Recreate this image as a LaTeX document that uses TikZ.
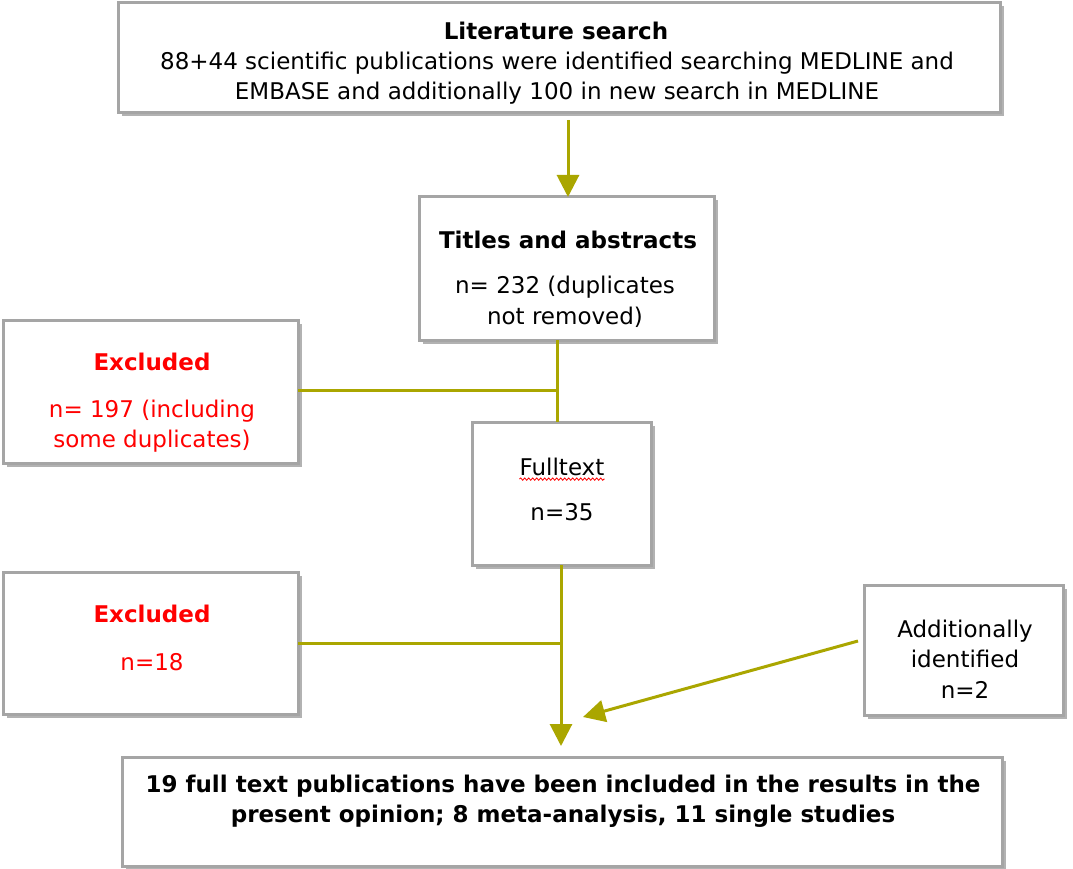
\documentclass[tikz,border=0pt]{standalone}
\usepackage{fontspec}
\setmainfont{DejaVu Sans}
\usetikzlibrary{arrows.meta,shadows,decorations.pathmorphing}
\definecolor{olivearr}{RGB}{170,166,0}
\definecolor{boxgray}{RGB}{165,165,165}
\definecolor{exred}{RGB}{255,0,0}
\tikzset{
  box/.style={draw=boxgray, line width=3pt, fill=white, inner sep=0pt, outer sep=0pt,
    drop shadow={shadow xshift=3.5pt, shadow yshift=-3.5pt, opacity=0.5, fill=black!60}},
  txt/.style={font=\fontsize{23}{30.5}\selectfont, align=center, inner sep=0pt},
  btxt/.style={txt, font=\fontsize{23}{30.5}\selectfont\bfseries},
  conn/.style={draw=olivearr, line width=3pt},
  arr/.style={conn, -{Triangle[width=22pt,length=22pt]}, fill=olivearr},
}
\begin{document}
\begin{tikzpicture}[x=1pt,y=-1pt]
\useasboundingbox (0,0) rectangle (1073,869);
% boxes
\node[box, minimum width=882pt, minimum height=110pt] (top) at (559,58) {};
\node[box, minimum width=295pt, minimum height=143pt] (titles) at (566.5,268.5) {};
\node[box, minimum width=295pt, minimum height=143pt] (excla) at (150.5,391.5) {};
\node[box, minimum width=179pt, minimum height=143pt] (full) at (561.5,493.5) {};
\node[box, minimum width=295pt, minimum height=142pt] (exclb) at (150.5,643) {};
\node[box, minimum width=199pt, minimum height=130pt] (add) at (963.5,650) {};
\node[box, minimum width=880pt, minimum height=109pt] (final) at (562,811.5) {};
% texts
\node[btxt] (topT) at (556,31) {Literature search};
\node[txt] (topB) at (557,78) {88+44 scientific publications were identified searching MEDLINE and\\EMBASE and additionally 100 in new search in MEDLINE};
\node[btxt] (titT) at (568,240) {Titles and abstracts};
\node[txt] (titB) at (565,302) {n= 232 (duplicates\\not removed)};
\node[btxt, text=exred] (exaT) at (152,362) {Excluded};
\node[txt, text=exred] (exaB) at (152,426) {n= 197 (including\\some duplicates)};
\node[txt] (fulT) at (562,467) {Fulltext};
\node[txt] (fulB) at (562,512) {n=35};
\node[btxt, text=exred] (exbT) at (152,614) {Excluded};
\node[txt, text=exred] (exbB) at (152,662) {n=18};
\node[txt] (addT) at (965,659) {Additionally\\identified\\n=2};
\node[btxt] (finT) at (563,801) {19 full text publications have been included in the results in the\\present opinion; 8 meta-analysis, 11 single studies};
% spell-check underline
\draw[exred, line width=0.8pt, decoration={snake, amplitude=1.2pt, segment length=4pt}, decorate]
  ([yshift=-3pt]fulT.south west) -- ([yshift=-3pt]fulT.south east);
% connectors
\coordinate (j1) at (557,390);
\coordinate (tip1) at (561,746);
\coordinate (tip2) at (583,717);
\coordinate (s2) at (858,641);
\draw[arr] ([yshift=-7pt]top.south -| 568,0) -- (titles.north -| 568,0);
\draw[conn] (titles.south -| j1) -- (full.north -| j1);
\draw[conn] (excla.east |- j1) -- (j1);
\draw[arr] (full.south -| tip1) -- (tip1);
\draw[conn] (exclb.east) -- (exclb.east -| tip1);
\draw[arr] (s2) -- (tip2);
\end{tikzpicture}
\end{document}
